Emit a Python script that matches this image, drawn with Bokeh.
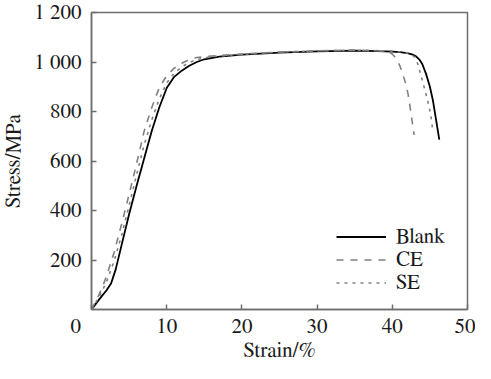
from bokeh.plotting import figure
from bokeh.models import FixedTicker, Legend, LegendItem
from bokeh.embed import file_html
from bokeh.resources import INLINE

# ---- data ----
blank_x = [0, 1, 2, 2.6, 3.2, 4, 5, 6, 7, 8, 9, 10, 11, 12, 13, 14, 15, 17, 20, 25, 30, 35, 38, 40, 41, 42, 42.7, 43.2, 43.6, 44.0, 44.5, 45.0, 45.4, 45.8, 46.25]
blank_y = [0, 40, 78, 105, 160, 260, 385, 500, 610, 720, 815, 895, 940, 965, 985, 1000, 1011, 1022, 1030, 1038, 1043, 1046, 1044, 1042, 1040, 1036, 1030, 1022, 1010, 991, 951, 900, 845, 770, 686]

ce_x = [0, 0.5, 1, 1.5, 2, 3, 4, 5, 6, 7, 8, 9, 10, 11, 12, 13, 14, 16, 20, 25, 30, 35, 38, 39.5, 40.0, 40.5, 41.0, 41.4, 41.8, 42.1, 42.5, 42.9]
ce_y = [0, 30, 60, 95, 135, 230, 345, 465, 590, 720, 815, 895, 945, 975, 995, 1010, 1018, 1024, 1032, 1040, 1045, 1048, 1046, 1040, 1032, 1015, 985, 951, 910, 870, 790, 706]

se_x = [0, 0.5, 1, 1.5, 2, 3, 4, 5, 6, 7, 8, 9, 10, 11, 12, 13, 14, 16, 20, 25, 30, 35, 40, 42, 43, 43.4, 44.0, 44.7, 45.1, 45.4]
se_y = [0, 25, 50, 80, 112, 195, 300, 420, 545, 665, 765, 850, 915, 955, 980, 998, 1010, 1022, 1031, 1040, 1045, 1048, 1044, 1037, 1020, 991, 925, 845, 790, 718]

series_names = ["Blank", "CE", "SE"]
x_ticks = [0, 10, 20, 30, 40, 50]
# the shared corner "0" sits left of the origin: pad it with no-break spaces
x_tick_labels = {0: "0" + "\u00a0" * 6}
y_ticks = [200, 400, 600, 800, 1000, 1200]
y_tick_labels = {200: "200", 400: "400", 600: "600", 800: "800", 1000: "1 000", 1200: "1 200"}

FONT = "FreeSerif"
TXT = "#1a1a1a"
AX = "#6e6e6e"
GRAY = "#808080"

p = figure(width=475, height=363, x_range=(0, 50), y_range=(0, 1200),
           output_backend="svg", toolbar_location=None,
           min_border_left=89, min_border_right=8, min_border_top=12, min_border_bottom=48)
p.grid.visible = False
p.background_fill_color = "white"
p.border_fill_color = "white"
p.outline_line_color = AX
p.outline_line_width = 1.5

for ax in (p.xaxis[0], p.yaxis[0]):
    ax.axis_line_color = AX
    ax.axis_line_width = 1.5
    ax.major_tick_line_color = AX
    ax.major_tick_line_width = 1.5
    ax.major_tick_in = 5
    ax.major_tick_out = 0
    ax.minor_tick_line_color = None
    ax.major_label_text_font = FONT
    ax.major_label_text_font_size = "21px"
    ax.major_label_text_color = TXT
    ax.axis_label_text_font = FONT
    ax.axis_label_text_font_size = "21px"
    ax.axis_label_text_font_style = "normal"
    ax.axis_label_text_color = TXT

p.xaxis[0].ticker = FixedTicker(ticks=x_ticks)
p.xaxis[0].major_label_overrides = x_tick_labels
p.yaxis[0].ticker = FixedTicker(ticks=y_ticks)
p.yaxis[0].major_label_overrides = y_tick_labels
p.xaxis[0].axis_label = "Strain/%"
p.yaxis[0].axis_label = "Stress/MPa"
p.xaxis[0].major_label_standoff = 6
p.xaxis[0].axis_label_standoff = 0
p.yaxis[0].major_label_standoff = 10
p.yaxis[0].axis_label_standoff = 7

r_blank = p.line(blank_x, blank_y, line_color="black", line_width=1.8)
r_ce = p.line(ce_x, ce_y, line_color=GRAY, line_width=1.6, line_dash="7 7")
r_se = p.line(se_x, se_y, line_color=GRAY, line_width=1.6, line_dash="3 5")

legend = Legend(items=[LegendItem(label=series_names[0], renderers=[r_blank]),
                       LegendItem(label=series_names[1], renderers=[r_ce]),
                       LegendItem(label=series_names[2], renderers=[r_se])],
                location=(245, 15), padding=0, margin=0, spacing=-4,
                glyph_width=50, glyph_height=23, label_height=23, label_standoff=10,
                label_text_font=FONT, label_text_font_size="21px", label_text_color=TXT,
                border_line_color=None, background_fill_alpha=0)
p.add_layout(legend)

open("out.html", "w").write(file_html(p, INLINE))
